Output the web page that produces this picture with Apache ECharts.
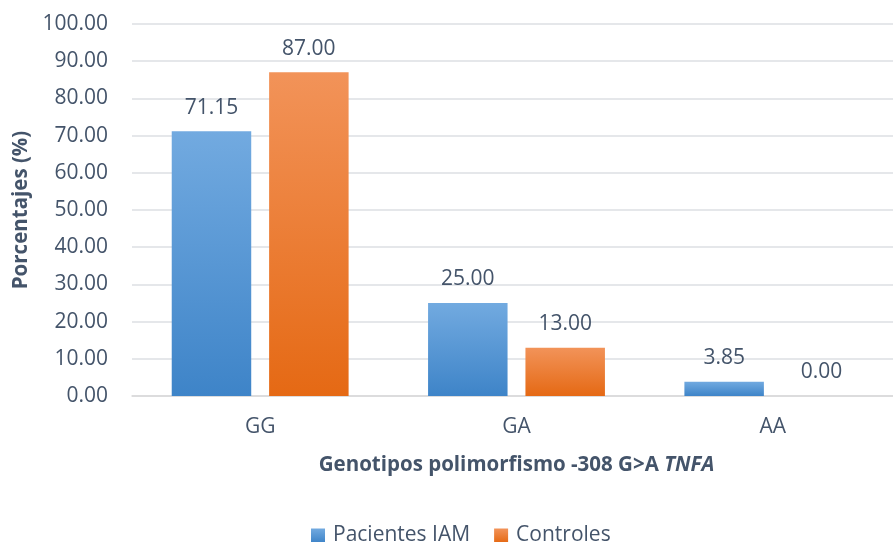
<!DOCTYPE html>
<html>
<head>
<meta charset="utf-8">
<script src="https://cdn.jsdelivr.net/npm/echarts@6/dist/echarts.min.js"></script>
<style>
  html, body { margin: 0; padding: 0; background: #fff; }
  #chart { width: 893px; height: 542px; }
</style>
</head>
<body>
<div id="chart"></div>
<script>
// datos
const categorias = ['GG', 'GA', 'AA'];
const pacientes = [71.15, 25.00, 3.85];
const controles = [87.00, 13.00, 0.00];
const nombres = ['Pacientes IAM', 'Controles'];

const textColor = '#44546a';
const font = 'Open Sans';

const grad = (top, bottom) => new echarts.graphic.LinearGradient(0, 0, 0, 1, [
  { offset: 0, color: top },
  { offset: 1, color: bottom }
]);

const labelOpt = {
  show: true,
  position: 'top',
  distance: 13,
  color: textColor,
  fontFamily: font,
  fontSize: 21,
  formatter: p => p.value.toFixed(2)
};

const myChart = echarts.init(document.getElementById('chart'));
const option = {
  animation: false,
  textStyle: { fontFamily: font },
  grid: {
    left: 132,
    right: -8,
    top: 24,
    bottom: 146,
    containLabel: false,
    outerBoundsMode: 'none'
  },
  legend: {
    top: 520,
    left: 306,
    itemWidth: 14,
    itemHeight: 14,
    itemGap: 24,
    icon: 'rect',
    textStyle: { color: textColor, fontSize: 21, fontFamily: font, padding: [0, 0, 0, 3] },
    data: nombres
  },
  xAxis: {
    type: 'category',
    data: categorias,
    axisTick: { show: false },
    axisLine: { lineStyle: { color: '#d9d9d9', width: 1.5 } },
    axisLabel: { color: textColor, fontSize: 21, fontFamily: font, margin: 21 },
    name: '{b|Genotipos polimorfismo -308 G>A }{i|TNFA}',
    nameLocation: 'middle',
    nameGap: 59,
    nameTextStyle: {
      rich: {
        b: { color: textColor, fontSize: 20.5, fontWeight: 'bold', fontFamily: font },
        i: { color: textColor, fontSize: 20.5, fontWeight: 'bold', fontStyle: 'italic', fontFamily: font }
      }
    }
  },
  yAxis: {
    type: 'value',
    min: 0,
    max: 100,
    interval: 10,
    axisLine: { show: false },
    axisTick: { show: false },
    splitLine: { lineStyle: { color: '#dcdfe3', width: 1.5 } },
    axisLabel: {
      color: textColor,
      fontSize: 21,
      fontFamily: font,
      margin: 24,
      formatter: v => v.toFixed(2)
    },
    name: 'Porcentajes (%)',
    nameLocation: 'middle',
    nameGap: 98,
    nameRotate: 90,
    nameTextStyle: { color: textColor, fontSize: 20.5, fontWeight: 'bold', fontFamily: font }
  },
  series: [
    {
      name: nombres[0],
      type: 'bar',
      data: pacientes,
      barGap: '22.5%',
      barCategoryGap: '31%',
      itemStyle: { color: grad('#72aae0', '#3e84c8') },
      label: labelOpt
    },
    {
      name: nombres[1],
      type: 'bar',
      data: controles,
      itemStyle: { color: grad('#f29359', '#e56914') },
      label: labelOpt
    }
  ]
};
myChart.setOption(option);
</script>
</body>
</html>
